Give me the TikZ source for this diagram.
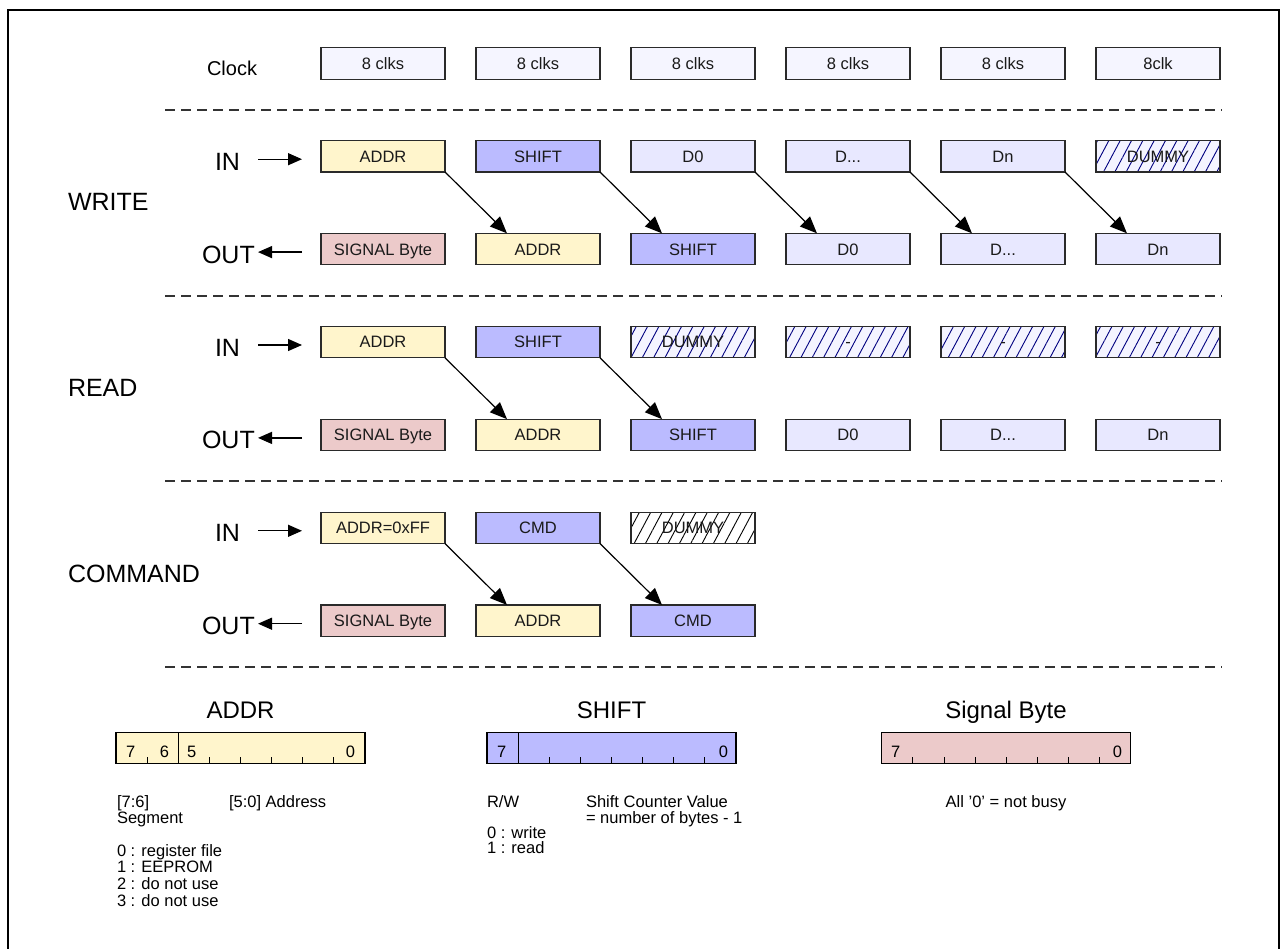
\documentclass[tikz,border=0pt]{standalone}
\usepackage{fontspec}
\setmainfont{Liberation Sans}
\usetikzlibrary{arrows.meta,patterns.meta,calc}
\definecolor{boxline}{HTML}{2A2A2A}
\definecolor{txt}{HTML}{1A1A1A}
\definecolor{clkfill}{HTML}{F5F5FF}
\definecolor{datafill}{HTML}{E8E8FF}
\definecolor{addrfill}{HTML}{FFF5CC}
\definecolor{shiftfill}{HTML}{BBBBFF}
\definecolor{sigfill}{HTML}{ECCACA}
\definecolor{hatchbg}{HTML}{F4F4FF}
\definecolor{hatchline}{HTML}{000080}
\definecolor{sepcol}{HTML}{333333}
\begin{document}
\begin{tikzpicture}[x=1pt,y=-1pt,
  every node/.style={inner sep=0pt, outer sep=0pt},
  box/.style={draw=boxline, line width=1.1pt, minimum width=124pt, minimum height=31.5pt,
    text height=11.8pt, text depth=0pt, font=\fontsize{16.5}{18}\selectfont, text=txt},
  clkbox/.style={box, fill=clkfill},
  addrbox/.style={box, fill=addrfill},
  shiftbox/.style={box, fill=shiftfill},
  databox/.style={box, fill=datafill},
  sigbox/.style={box, fill=sigfill},
  hatchbox/.style={box, preaction={fill=hatchbg},
    pattern={Lines[angle=62,distance=10pt,line width=0.9pt]}, pattern color=hatchline},
  hatchboxw/.style={box, preaction={fill=white},
    pattern={Lines[angle=62,distance=10pt,line width=0.9pt]}, pattern color=black},
  link/.style={line width=1.2pt, draw=black, -{Triangle[length=17pt,width=14pt]}},
  ioarrow/.style={line width=1.3pt, draw=black, -{Triangle[length=14pt,width=12pt]}},
  sep/.style={draw=sepcol, line width=1.2pt, dash pattern=on 10pt off 6pt},
  big/.style={font=\fontsize{25}{28}\selectfont, anchor=base west},
  clklbl/.style={font=\fontsize{20}{24}\selectfont, anchor=base west},
  title/.style={font=\fontsize{24}{28}\selectfont, anchor=base},
  small/.style={font=\fontsize{16.5}{18}\selectfont, anchor=base west},
  reg/.style={draw=black, line width=1.3pt, minimum width=249pt, minimum height=30.5pt},
  tick/.style={draw=black, line width=1.1pt},
  bitw/.style={font=\fontsize{16.5}{18}\selectfont, anchor=base west},
  bite/.style={font=\fontsize{16.5}{18}\selectfont, anchor=base east}
]
\useasboundingbox (0,0) rectangle (1280,948);
\fill[white] (0,0) rectangle (1280,948);
% frame
\draw[line width=2.2pt] (8,949) -- (8,10) -- (1279,10) -- (1279,949);

% ---------- Clock row ----------
\node[clklbl] (lclk) at (207,75) {Clock};
\node[clkbox] (clk1) at (383,63.3) {8 clks};
\node[clkbox] (clk2) at (538,63.3) {8 clks};
\node[clkbox] (clk3) at (693,63.3) {8 clks};
\node[clkbox] (clk4) at (848,63.3) {8 clks};
\node[clkbox] (clk5) at (1003,63.3) {8 clks};
\node[clkbox] (clk6) at (1158,63.3) {8clk};

% separators
\coordinate (s1a) at (165,110); \coordinate (s1b) at (1222,110);
\coordinate (s2a) at (165,296); \coordinate (s2b) at (1222,296);
\coordinate (s3a) at (165,481); \coordinate (s3b) at (1222,481);
\coordinate (s4a) at (165,667); \coordinate (s4b) at (1222,667);
\draw[sep] (s1a) -- (s1b);
\draw[sep] (s2a) -- (s2b);
\draw[sep] (s3a) -- (s3b);
\draw[sep] (s4a) -- (s4b);

% ---------- WRITE ----------
\node[big] (lwrite) at (68,210.7) {WRITE};
\node[big] (lwin) at (215,170.2) {IN};
\node[big] (lwout) at (202,263.1) {OUT};
\coordinate (wia) at (258,159.2); \coordinate (wib) at (302,159.2);
\coordinate (woa) at (302,252.1); \coordinate (wob) at (258,252.1);
\draw[ioarrow] (wia) -- (wib);
\draw[ioarrow] (woa) -- (wob);

\node[addrbox]  (wi1) at (383,156.2) {ADDR};
\node[shiftbox] (wi2) at (538,156.2) {SHIFT};
\node[databox]  (wi3) at (693,156.2) {D0};
\node[databox]  (wi4) at (848,156.2) {D...};
\node[databox]  (wi5) at (1003,156.2) {Dn};
\node[hatchbox] (wi6) at (1158,156.2) {DUMMY};

\node[sigbox]   (wo1) at (383,249.1) {SIGNAL Byte};
\node[addrbox]  (wo2) at (538,249.1) {ADDR};
\node[shiftbox] (wo3) at (693,249.1) {SHIFT};
\node[databox]  (wo4) at (848,249.1) {D0};
\node[databox]  (wo5) at (1003,249.1) {D...};
\node[databox]  (wo6) at (1158,249.1) {Dn};

\draw[link] (wi1.south east) -- ($(wo2.north west)!0.25!(wo2.north east)$);
\draw[link] (wi2.south east) -- ($(wo3.north west)!0.25!(wo3.north east)$);
\draw[link] (wi3.south east) -- ($(wo4.north west)!0.25!(wo4.north east)$);
\draw[link] (wi4.south east) -- ($(wo5.north west)!0.25!(wo5.north east)$);
\draw[link] (wi5.south east) -- ($(wo6.north west)!0.25!(wo6.north east)$);

% ---------- READ ----------
\node[big] (lread) at (68,396.5) {READ};
\node[big] (lrin) at (215,356) {IN};
\node[big] (lrout) at (202,448.9) {OUT};
\coordinate (ria) at (258,345); \coordinate (rib) at (302,345);
\coordinate (roa) at (302,437.9); \coordinate (rob) at (258,437.9);
\draw[ioarrow] (ria) -- (rib);
\draw[ioarrow] (roa) -- (rob);

\node[addrbox]  (ri1) at (383,342) {ADDR};
\node[shiftbox] (ri2) at (538,342) {SHIFT};
\node[hatchbox] (ri3) at (693,342) {DUMMY};
\node[hatchbox] (ri4) at (848,342) {-};
\node[hatchbox] (ri5) at (1003,342) {-};
\node[hatchbox] (ri6) at (1158,342) {-};

\node[sigbox]   (ro1) at (383,434.9) {SIGNAL Byte};
\node[addrbox]  (ro2) at (538,434.9) {ADDR};
\node[shiftbox] (ro3) at (693,434.9) {SHIFT};
\node[databox]  (ro4) at (848,434.9) {D0};
\node[databox]  (ro5) at (1003,434.9) {D...};
\node[databox]  (ro6) at (1158,434.9) {Dn};

\draw[link] (ri1.south east) -- ($(ro2.north west)!0.25!(ro2.north east)$);
\draw[link] (ri2.south east) -- ($(ro3.north west)!0.25!(ro3.north east)$);

% ---------- COMMAND ----------
\node[big] (lcmd) at (68,582.3) {COMMAND};
\node[big] (lcin) at (215,541.8) {IN};
\node[big] (lcout) at (202,634.7) {OUT};
\coordinate (cia) at (258,530.8); \coordinate (cib) at (302,530.8);
\coordinate (coa) at (302,623.7); \coordinate (cob) at (258,623.7);
\draw[ioarrow] (cia) -- (cib);
\draw[ioarrow] (coa) -- (cob);

\node[addrbox]   (ci1) at (383,527.8) {ADDR=0xFF};
\node[shiftbox]  (ci2) at (538,527.8) {CMD};
\node[hatchboxw] (ci3) at (693,527.8) {DUMMY};

\node[sigbox]   (co1) at (383,620.7) {SIGNAL Byte};
\node[addrbox]  (co2) at (538,620.7) {ADDR};
\node[shiftbox] (co3) at (693,620.7) {CMD};

\draw[link] (ci1.south east) -- ($(co2.north west)!0.25!(co2.north east)$);
\draw[link] (ci2.south east) -- ($(co3.north west)!0.25!(co3.north east)$);

% ---------- ADDR register ----------
\node[title] (taddr) at (240.5,718.3) {ADDR};
\node[reg, fill=addrfill] (areg) at (240.5,748) {};
\draw[tick] ($(areg.south west)!0.25!(areg.south east)$) -- ($(areg.north west)!0.25!(areg.north east)$);
\foreach \k in {1,3,4,5,6,7}
  \draw[tick] ($(areg.south west)!\k/8!(areg.south east)$) -- ++(0,-6);
\node[bitw] (a7) at (126,757) {7};
\node[bite] (a6) at (169,757) {6};
\node[bitw] (a5) at (187,757) {5};
\node[bite] (a0) at (355,757) {0};
\node[small] (aseg1) at (117,807) {[7:6]};
\node[small] (aseg2) at (117,823.5) {Segment};
\node[small] (aadr) at (229,807) {[5:0] Address};
\node[small] (al0) at (117,856) {0 : register file};
\node[small] (al1) at (117,872.7) {1 : EEPROM};
\node[small] (al2) at (117,889.4) {2 : do not use};
\node[small] (al3) at (117,906.1) {3 : do not use};

% ---------- SHIFT register ----------
\node[title] (tshift) at (611.5,718.3) {SHIFT};
\node[reg, fill=shiftfill] (sreg) at (611.5,748) {};
\draw[tick] ($(sreg.south west)!0.125!(sreg.south east)$) -- ($(sreg.north west)!0.125!(sreg.north east)$);
\foreach \k in {2,3,4,5,6,7}
  \draw[tick] ($(sreg.south west)!\k/8!(sreg.south east)$) -- ++(0,-6);
\node[bitw] (s7) at (497,757) {7};
\node[bite] (s0) at (728,757) {0};
\node[small] (srw) at (487,807) {R/W};
\node[small] (sw0) at (487,838) {0 : write};
\node[small] (sw1) at (487,853) {1 : read};
\node[small] (scv1) at (586,807) {Shift Counter Value};
\node[small] (scv2) at (586,823) {= number of bytes - 1};

% ---------- Signal Byte ----------
\node[title] (tsig) at (1006,718.3) {Signal Byte};
\node[reg, fill=sigfill] (greg) at (1006.3,748) {};
\foreach \k in {1,2,3,4,5,6,7}
  \draw[tick] ($(greg.south west)!\k/8!(greg.south east)$) -- ++(0,-6);
\node[bitw] (g7) at (891,757) {7};
\node[bite] (g0) at (1122,757) {0};
\node[small, anchor=base] (gnb) at (1006,807) {All ’0’ = not busy};
\end{tikzpicture}
\end{document}
